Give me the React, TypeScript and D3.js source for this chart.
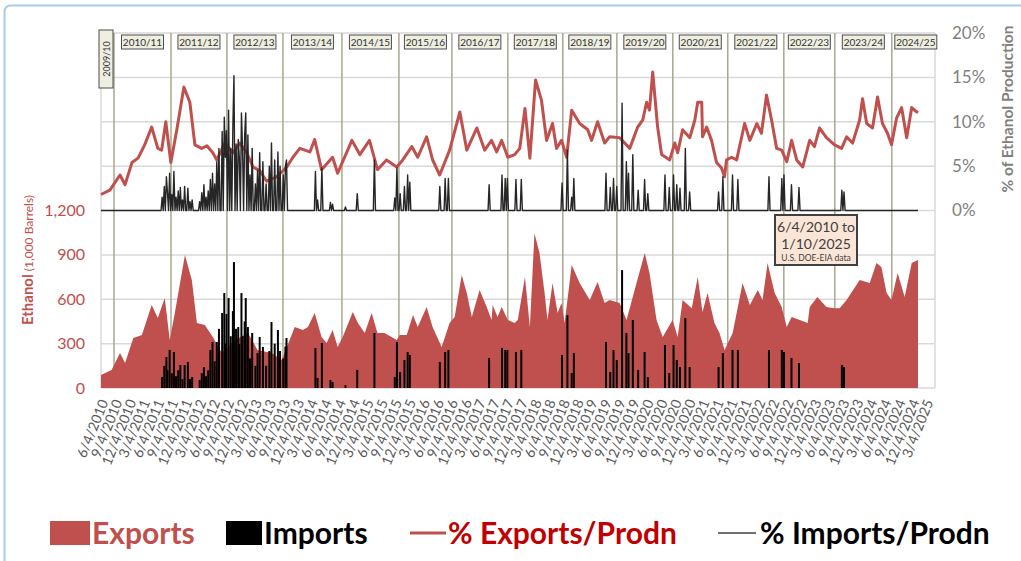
import * as d3 from "d3";

// weekly ethanol exports, 1,000 barrels
const exportsSeries: [string, number][] = [
  ["2010-06-04", 88], ["2010-08-12", 122], ["2010-10-06", 236], ["2010-11-08", 169], ["2011-01-01", 338],
  ["2011-02-26", 358], ["2011-05-01", 561], ["2011-06-10", 473], ["2011-07-25", 608], ["2011-08-27", 324],
  ["2011-09-29", 507], ["2011-12-04", 899], ["2012-01-18", 730], ["2012-02-20", 439], ["2012-04-12", 426],
  ["2012-06-03", 345], ["2012-08-01", 236], ["2012-10-25", 324], ["2013-01-18", 372], ["2013-03-22", 257],
  ["2013-06-22", 236], ["2013-08-27", 189], ["2013-11-20", 412], ["2014-01-12", 392], ["2014-02-14", 412],
  ["2014-03-30", 507], ["2014-05-14", 345], ["2014-06-16", 304], ["2014-07-25", 392], ["2014-08-27", 277],
  ["2014-09-29", 345], ["2014-12-04", 514], ["2015-01-06", 439], ["2015-02-20", 372], ["2015-04-06", 507],
  ["2015-05-14", 372], ["2015-06-29", 372], ["2015-09-17", 324], ["2015-10-06", 358], ["2015-11-21", 358],
  ["2016-01-01", 493], ["2016-02-01", 412], ["2016-03-30", 547], ["2016-05-08", 412], ["2016-07-06", 277],
  ["2016-08-27", 439], ["2016-09-29", 480], ["2016-11-14", 764], ["2016-12-17", 642], ["2017-01-19", 480],
  ["2017-03-11", 662], ["2017-04-26", 547], ["2017-05-28", 460], ["2017-06-04", 561], ["2017-07-06", 480],
  ["2017-08-02", 547], ["2017-09-11", 460], ["2017-10-26", 439], ["2017-11-15", 460], ["2018-01-01", 750],
  ["2018-02-02", 412], ["2018-03-04", 1047], ["2018-04-06", 912], ["2018-05-09", 642], ["2018-05-28", 460],
  ["2018-06-30", 710], ["2018-08-02", 507], ["2018-08-28", 574], ["2018-09-17", 439], ["2018-11-02", 831],
  ["2018-12-24", 710], ["2019-02-28", 595], ["2019-04-20", 716], ["2019-06-05", 574], ["2019-07-07", 595],
  ["2019-09-11", 574], ["2019-10-26", 460], ["2019-12-18", 662], ["2020-02-22", 912], ["2020-03-24", 777],
  ["2020-05-09", 460], ["2020-06-18", 345], ["2020-08-22", 460], ["2020-09-24", 345], ["2020-10-26", 595],
  ["2020-12-25", 540], ["2021-02-02", 750], ["2021-03-05", 514], ["2021-04-07", 642], ["2021-05-22", 439],
  ["2021-06-24", 372], ["2021-07-27", 257], ["2021-09-18", 372], ["2021-11-22", 710], ["2022-01-08", 561],
  ["2022-03-01", 662], ["2022-04-01", 595], ["2022-05-04", 845], ["2022-06-19", 642], ["2022-08-04", 547],
  ["2022-09-06", 412], ["2022-10-08", 480], ["2022-11-30", 460], ["2023-01-21", 439], ["2023-02-03", 547],
  ["2023-03-25", 615], ["2023-05-23", 547], ["2023-07-15", 540], ["2023-08-17", 540], ["2023-10-02", 595],
  ["2023-12-26", 730], ["2024-03-01", 710], ["2024-04-14", 845], ["2024-05-16", 818], ["2024-06-19", 642],
  ["2024-07-21", 595], ["2024-08-30", 777], ["2024-10-15", 615], ["2024-11-30", 845], ["2025-01-10", 865],
];

// exports as % of ethanol production
const exportsPctSeries: [string, number][] = [
  ["2010-06-04", 1.8], ["2010-08-01", 2.3], ["2010-10-06", 4.0], ["2010-11-08", 2.9], ["2010-12-23", 5.4],
  ["2011-02-01", 5.9], ["2011-03-16", 7.4], ["2011-05-01", 9.4], ["2011-06-10", 7.0], ["2011-07-05", 6.8],
  ["2011-08-01", 10.0], ["2011-09-03", 5.4], ["2011-10-12", 9.1], ["2011-11-27", 13.9], ["2012-01-05", 12.2],
  ["2012-02-07", 7.4], ["2012-03-22", 7.0], ["2012-04-25", 7.3], ["2012-06-03", 6.5], ["2012-06-29", 5.7],
  ["2012-08-21", 7.6], ["2012-10-12", 6.5], ["2012-11-27", 7.6], ["2013-01-11", 6.5], ["2013-02-20", 4.9],
  ["2013-04-05", 4.5], ["2013-05-20", 3.3], ["2013-07-25", 3.8], ["2013-09-29", 4.9], ["2013-11-08", 6.0],
  ["2013-12-23", 7.0], ["2014-02-27", 6.6], ["2014-03-30", 8.0], ["2014-05-14", 4.6], ["2014-07-25", 6.0],
  ["2014-08-27", 4.2], ["2014-11-28", 7.9], ["2015-01-19", 6.3], ["2015-03-23", 7.9], ["2015-05-14", 4.6],
  ["2015-07-12", 5.7], ["2015-09-17", 4.9], ["2015-10-26", 5.7], ["2015-12-24", 7.2], ["2016-02-01", 6.0],
  ["2016-03-30", 8.3], ["2016-05-08", 5.7], ["2016-06-23", 4.0], ["2016-08-27", 6.8], ["2016-11-02", 11.1],
  ["2016-12-17", 6.8], ["2017-02-21", 9.3], ["2017-04-13", 6.8], ["2017-05-28", 7.9], ["2017-06-30", 6.6],
  ["2017-08-02", 7.9], ["2017-09-11", 6.0], ["2017-10-26", 6.3], ["2017-11-28", 7.0], ["2018-01-01", 11.5],
  ["2018-02-02", 5.9], ["2018-03-11", 14.7], ["2018-04-19", 12.4], ["2018-05-22", 7.9], ["2018-06-30", 9.8],
  ["2018-07-26", 7.0], ["2018-08-28", 7.9], ["2018-09-30", 6.0], ["2018-11-02", 11.3], ["2018-12-24", 9.8],
  ["2019-02-15", 9.1], ["2019-03-12", 7.9], ["2019-04-20", 10.0], ["2019-06-05", 7.6], ["2019-07-07", 8.3],
  ["2019-09-11", 8.2], ["2019-11-16", 7.0], ["2020-01-07", 9.4], ["2020-02-09", 10.2], ["2020-03-05", 12.2],
  ["2020-03-24", 11.3], ["2020-04-14", 15.6], ["2020-05-16", 9.4], ["2020-06-11", 6.3], ["2020-08-03", 5.7],
  ["2020-09-05", 7.6], ["2020-09-24", 6.5], ["2020-10-26", 9.1], ["2020-12-12", 8.2], ["2021-01-14", 10.2],
  ["2021-02-02", 12.2], ["2021-02-28", 12.2], ["2021-03-05", 8.3], ["2021-04-01", 9.4], ["2021-05-03", 7.9],
  ["2021-06-05", 5.4], ["2021-07-07", 4.8], ["2021-07-27", 3.8], ["2021-08-09", 5.7], ["2021-09-11", 6.0],
  ["2021-10-14", 5.7], ["2021-12-05", 9.8], ["2022-01-08", 7.9], ["2022-02-23", 9.8], ["2022-03-25", 8.7],
  ["2022-04-27", 13.0], ["2022-05-30", 10.2], ["2022-07-02", 7.0], ["2022-08-04", 6.8], ["2022-09-06", 5.5],
  ["2022-10-08", 7.9], ["2022-11-10", 5.7], ["2022-12-19", 4.9], ["2023-02-03", 7.9], ["2023-03-06", 7.2],
  ["2023-04-08", 9.3], ["2023-05-23", 8.2], ["2023-07-15", 7.4], ["2023-08-30", 7.0], ["2023-10-02", 8.3],
  ["2023-11-10", 7.6], ["2023-12-26", 10.2], ["2024-01-14", 12.6], ["2024-02-10", 9.8], ["2024-03-19", 9.3],
  ["2024-04-21", 12.8], ["2024-05-23", 9.8], ["2024-06-25", 8.7], ["2024-07-21", 7.4], ["2024-08-23", 10.4],
  ["2024-09-25", 11.6], ["2024-10-28", 8.2], ["2024-11-30", 11.6], ["2024-12-19", 11.3], ["2025-01-10", 11.0],
];

// weeks with imports: [date, 1,000 barrels, % of production]; all other weeks are zero
const importWeeks: [string, number, number][] = [
  ["2011-07-07", 74, 1.5], ["2011-07-20", 150, 2.7], ["2011-08-02", 209, 3.8], ["2011-08-15", 120, 2.0],
  ["2011-08-28", 257, 4.2], ["2011-09-10", 100, 1.8], ["2011-09-23", 243, 4.4], ["2011-10-07", 80, 1.5],
  ["2011-10-20", 120, 2.2], ["2011-11-02", 155, 2.6], ["2011-11-15", 60, 1.2], ["2011-12-04", 155, 2.7],
  ["2011-12-24", 176, 2.5], ["2012-01-06", 60, 1.0], ["2012-01-19", 74, 1.2], ["2012-03-11", 54, 1.0],
  ["2012-03-24", 100, 2.0], ["2012-04-06", 142, 2.9], ["2012-04-19", 80, 1.5], ["2012-05-02", 120, 2.2],
  ["2012-05-15", 257, 3.5], ["2012-06-04", 311, 4.2], ["2012-06-17", 180, 3.0], ["2012-06-30", 311, 5.5],
  ["2012-07-13", 400, 7.0], ["2012-08-02", 507, 8.9], ["2012-08-15", 642, 10.5], ["2012-08-21", 300, 6.0],
  ["2012-09-03", 500, 9.0], ["2012-09-16", 608, 11.3], ["2012-09-30", 350, 7.0], ["2012-10-12", 520, 9.5],
  ["2012-10-19", 851, 15.2], ["2012-11-01", 400, 7.5], ["2012-11-14", 412, 8.0], ["2012-11-23", 300, 6.0],
  ["2012-12-04", 642, 11.0], ["2012-12-17", 350, 7.0], ["2012-12-30", 450, 8.5], ["2013-01-05", 608, 11.0],
  ["2013-01-18", 412, 8.5], ["2013-02-01", 200, 4.0], ["2013-02-14", 372, 7.0], ["2013-03-05", 150, 3.0],
  ["2013-03-25", 236, 4.5], ["2013-04-07", 345, 6.5], ["2013-04-26", 277, 5.5], ["2013-05-16", 150, 3.0],
  ["2013-06-05", 250, 5.0], ["2013-06-24", 446, 7.6], ["2013-07-14", 300, 5.7], ["2013-08-02", 392, 6.6],
  ["2013-08-15", 250, 5.0], ["2013-09-04", 200, 4.0], ["2013-09-17", 280, 5.0], ["2013-09-30", 338, 5.7],
  ["2014-04-07", 270, 4.4], ["2014-04-20", 68, 1.2], ["2014-05-16", 304, 4.8], ["2014-07-14", 54, 0.9],
  ["2014-07-27", 40, 0.7], ["2014-10-14", 20, 0.4], ["2014-12-31", 122, 1.9], ["2015-04-21", 372, 5.7],
  ["2015-09-05", 74, 1.4], ["2015-09-18", 311, 4.8], ["2015-10-08", 108, 1.9], ["2015-11-09", 189, 2.7],
  ["2015-11-29", 243, 4.0], ["2015-12-12", 223, 3.2], ["2016-06-25", 176, 2.7], ["2016-07-27", 243, 3.6],
  ["2016-08-22", 257, 3.6], ["2017-05-11", 203, 2.9], ["2017-08-03", 270, 4.0], ["2017-08-23", 257, 3.6],
  ["2017-09-11", 257, 3.6], ["2017-11-03", 243, 3.5], ["2017-12-05", 257, 3.5], ["2018-08-30", 223, 3.1],
  ["2018-10-08", 493, 6.8], ["2018-11-03", 101, 1.5], ["2018-11-16", 236, 3.6], ["2019-06-13", 311, 4.2],
  ["2019-07-09", 108, 2.6], ["2019-08-04", 257, 3.6], ["2019-08-24", 189, 2.7], ["2019-09-26", 797, 12.1],
  ["2019-10-28", 372, 5.5], ["2019-11-10", 236, 4.2], ["2019-12-06", 460, 6.3], ["2020-01-08", 122, 2.3],
  ["2020-02-23", 243, 3.5], ["2020-03-13", 74, 1.9], ["2020-07-02", 290, 4.0], ["2020-07-28", 101, 2.6],
  ["2020-08-30", 290, 4.0], ["2020-09-19", 189, 2.9], ["2020-10-08", 142, 2.5], ["2020-11-10", 473, 7.0],
  ["2020-12-13", 142, 2.1], ["2021-06-20", 142, 2.1], ["2021-07-16", 236, 3.8], ["2021-09-19", 257, 4.0],
  ["2021-10-22", 257, 3.5], ["2022-05-12", 257, 3.8], ["2022-08-05", 257, 3.6], ["2022-08-18", 243, 4.0],
  ["2022-10-09", 203, 2.9], ["2022-11-24", 169, 2.6], ["2023-09-01", 155, 2.3], ["2023-09-14", 142, 2.1],
];

// marketing-year dividers as drawn on the chart, and their labels
const yearDividers = [
  "2010-08-28", "2011-09-04", "2012-09-03", "2013-09-04", "2014-09-24", "2015-10-01", "2016-09-11",
  "2017-09-11", "2018-09-05", "2019-08-24", "2020-08-23", "2021-08-17", "2022-08-18", "2023-07-17",
  "2024-07-23",
];
const yearLabels = [
  "2010/11", "2011/12", "2012/13", "2013/14", "2014/15", "2015/16", "2016/17", "2017/18",
  "2018/19", "2019/20", "2020/21", "2021/22", "2022/23", "2023/24", "2024/25",
];

const leftTicks = [0, 300, 600, 900, 1200];
const rightTicks = [0, 5, 10, 15, 20];
const gridValues = [0, 300, 600, 900, 1200, 1500, 1800, 2100, 2400];

const RED = "#C0504D";
const FONT = "Lato, 'Open Sans', sans-serif";

const parse = d3.timeParse("%Y-%m-%d");
const startDate = parse("2010-06-04")!;
const endDate = parse("2025-01-10")!;

export default function App() {
  const left = 101, right = 935, top = 33, bottom = 388;

  const x = d3.scaleTime().domain([startDate, endDate]).range([left, 918]);
  const yLeft = d3.scaleLinear().domain([0, 2400]).range([bottom, top]);
  const yRight = d3.scaleLinear().domain([0, 20]).range([yLeft(1200), top]);

  const exportsData = exportsSeries.map(([d, v]) => ({ date: parse(d)!, value: v }));
  const exportsPct = exportsPctSeries.map(([d, v]) => ({ date: parse(d)!, value: v }));
  const imports = importWeeks.map(([d, v, p]) => ({ date: d3.timeFriday.round(parse(d)!), value: v, pct: p }));

  // weekly import share: zero except in weeks with imports
  const pctByWeek = new Map(imports.map((d) => [+d.date, d.pct]));
  const weeks = d3.timeFriday.range(startDate, d3.timeDay.offset(endDate, 1));
  const importsPct = weeks.map((w) => ({ date: w, value: pctByWeek.get(+w) ?? 0 }));

  const exportArea = d3
    .area<{ date: Date; value: number }>()
    .x((d) => x(d.date))
    .y0(yLeft(0))
    .y1((d) => yLeft(d.value));
  const pctLine = d3
    .line<{ date: Date; value: number }>()
    .x((d) => x(d.date))
    .y((d) => yRight(d.value));

  const dividerX = yearDividers.map((d) => x(parse(d)!));

  const xTicks = d3.range(60).map((i) => new Date(2010, 5 + 3 * i, 4));
  const fmt = (d: Date) => `${d.getMonth() + 1}/${d.getDate()}/${d.getFullYear()}`;

  return (
    <svg width={1021} height={561} style={{ position: "absolute", left: 0, top: 0, background: "#fff" }} fontFamily={FONT}>
      <rect x={4.5} y={5.5} width={1040} height={580} rx={6} fill="#fff" stroke="#A9CBE8" strokeWidth={2} />

      {/* horizontal grid */}
      {gridValues.map((v) => (
        <line key={v} x1={left} x2={right} y1={yLeft(v)} y2={yLeft(v)} stroke="#D9D9D9" strokeWidth={1.5} />
      ))}
      <line x1={left} x2={left} y1={top} y2={bottom} stroke="#D9D9D9" strokeWidth={1.5} />
      <line x1={right} x2={right} y1={top} y2={bottom} stroke="#D9D9D9" strokeWidth={1.5} />

      {/* marketing year dividers */}
      {dividerX.map((dx, i) => (
        <line key={i} x1={dx} x2={dx} y1={top} y2={bottom} stroke="#A8A88E" strokeWidth={1.5} />
      ))}

      {/* exports and imports, barrels */}
      <path d={exportArea(exportsData)!} fill={RED} />
      {imports.map((d, i) => (
        <rect key={i} x={x(d.date) - 1} width={2} y={yLeft(d.value)} height={yLeft(0) - yLeft(d.value)} fill="#000" />
      ))}

      {/* percent of production */}
      <path d={pctLine(exportsPct)!} fill="none" stroke={RED} strokeWidth={3} strokeLinejoin="round" />
      <path d={pctLine(importsPct)!} fill="none" stroke="#262626" strokeWidth={1.4} strokeLinejoin="round" />

      {/* year label boxes */}
      <g fontSize={10} fill="#333">
        {yearLabels.map((label, i) => {
          const cx = i < dividerX.length - 1 ? (dividerX[i] + dividerX[i + 1]) / 2 : dividerX[i] + 24;
          return (
            <g key={label}>
              <rect x={cx - 21} y={35} width={42} height={14} fill="#EEEFE0" stroke="#4D4D4D" strokeWidth={1} />
              <text x={cx} y={42} textAnchor="middle" dominantBaseline="central">{label}</text>
            </g>
          );
        })}
        <rect x={99} y={30} width={14} height={58} fill="#EEEFE0" stroke="#4D4D4D" strokeWidth={1} />
        <text transform="translate(106,59) rotate(-90)" textAnchor="middle" dominantBaseline="central" fontSize={9}>
          2009/10
        </text>
      </g>

      {/* left axis */}
      {leftTicks.map((t) => (
        <text key={t} x={85} y={yLeft(t)} dy="0.35em" textAnchor="end" fontSize={16} fill={RED}>
          {d3.format(",")(t)}
        </text>
      ))}
      <text transform="translate(33,260) rotate(-90)" textAnchor="middle" fill={RED}>
        <tspan fontWeight="bold" fontSize={15}>Ethanol</tspan>
        <tspan fontSize={12}> (1,000 Barrels)</tspan>
      </text>

      {/* right axis */}
      {rightTicks.map((t) => (
        <text key={t} x={952} y={yRight(t)} dy="0.35em" fontSize={17} fill="#7F7F7F">
          {t}%
        </text>
      ))}
      <text transform="translate(1013,109) rotate(-90)" textAnchor="middle" fontSize={15.5} fontWeight="bold" fill="#7F7F7F">
        % of Ethanol Production
      </text>

      {/* x axis labels */}
      <g fontSize={14} fill="#595959">
        {xTicks.map((d, i) => (
          <text key={i} transform={`translate(${x(d) + 3},400) rotate(-68)`} textAnchor="end" dy="0.35em">
            {fmt(d)}
          </text>
        ))}
      </g>

      {/* date range note */}
      <g>
        <rect x={775} y={215} width={82} height={50} fill="#FBE5D6" stroke="#404040" strokeWidth={2} />
        <text x={816} y={232} textAnchor="middle" fontSize={14} fill="#404040">6/4/2010 to</text>
        <text x={816} y={249} textAnchor="middle" fontSize={14} fill="#404040">1/10/2025</text>
        <text x={816} y={261} textAnchor="middle" fontSize={8.5} fill="#404040">U.S. DOE-EIA data</text>
      </g>

      {/* legend */}
      <g fontWeight="bold" fontSize={30}>
        <rect x={50} y={521} width={40} height={24} fill={RED} />
        <text x={92} y={544} fill={RED}>Exports</text>
        <rect x={226} y={521} width={36} height={24} fill="#000" />
        <text x={264} y={544} fill="#000">Imports</text>
        <line x1={410} x2={446} y1={533} y2={533} stroke={RED} strokeWidth={3} />
        <text x={448} y={544} fill="#C00000">% Exports/Prodn</text>
        <line x1={718} x2={756} y1={533} y2={533} stroke="#404040" strokeWidth={1.5} />
        <text x={760} y={544} fill="#000">% Imports/Prodn</text>
      </g>
    </svg>
  );
}
